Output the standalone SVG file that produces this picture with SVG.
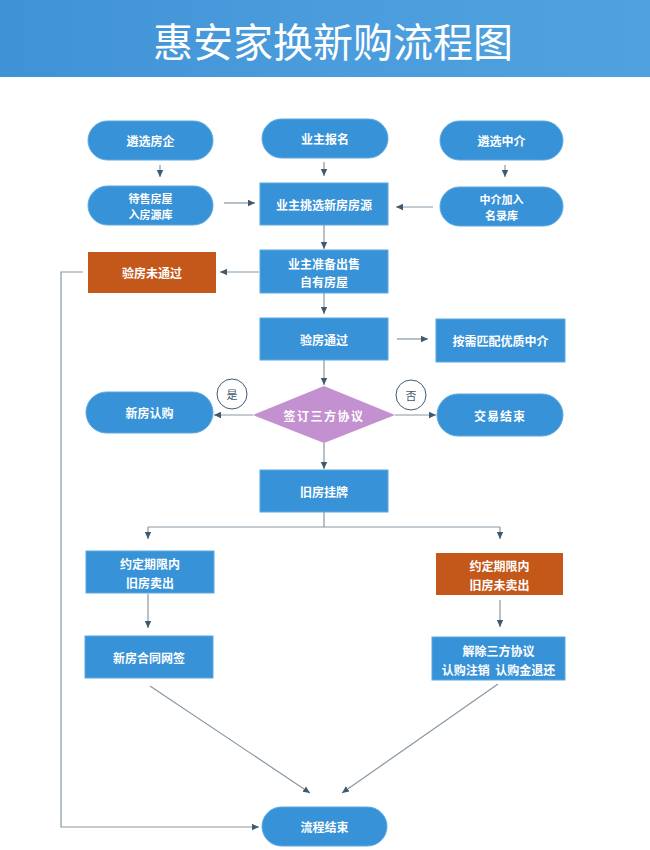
<svg xmlns="http://www.w3.org/2000/svg" width="650" height="850" viewBox="0 0 650 850">
<defs>
<linearGradient id="hdr" x1="0" y1="0" x2="1" y2="0">
<stop offset="0" stop-color="#3f92d6"/>
<stop offset="0.5" stop-color="#4a9cdc"/>
<stop offset="1" stop-color="#4fa2df"/>
</linearGradient>
<marker id="ah" markerUnits="userSpaceOnUse" markerWidth="8" markerHeight="8" refX="7" refY="4" orient="auto">
<path d="M0,0.8 L7,4 L0,7.2 Z" fill="#3f5a6e"/>
</marker>
</defs>
<style>
.blue{fill:#3792d7;stroke:#5aaae4;stroke-width:1}
.orange{fill:#c4571a}
.dia{fill:#c390d0}
.t{font-family:"Noto Sans CJK SC","Noto Sans",sans-serif;font-size:12px;font-weight:bold;fill:#ffffff;text-anchor:middle;dominant-baseline:central}
.s{font-size:11px}
.c{fill:none;stroke:#8797a3;stroke-width:1.2}
.ca{fill:none;stroke:#8797a3;stroke-width:1.2;marker-end:url(#ah)}
.lbl{fill:#ffffff;stroke:#3f5a6e;stroke-width:1}
.lt{font-family:"Noto Sans CJK SC","Noto Sans",sans-serif;font-size:11px;fill:#3f5a6e;text-anchor:middle;dominant-baseline:central}
</style>
<rect width="650" height="850" fill="#ffffff"/>
<g id="header">
<rect x="0" y="0" width="650" height="77" fill="url(#hdr)"/>
<text x="333" y="40" font-family="'Noto Sans CJK SC','Noto Sans',sans-serif" font-size="40" fill="#ffffff" text-anchor="middle" dominant-baseline="central">惠安家换新购流程图</text>
</g>
<g id="connectors">
<line class="ca" x1="160" y1="165" x2="160" y2="177"/>
<line class="ca" x1="324" y1="162" x2="324" y2="176"/>
<line class="ca" x1="505" y1="165" x2="505" y2="177"/>
<line class="ca" x1="224" y1="203" x2="255" y2="203"/>
<line class="ca" x1="433" y1="207" x2="396" y2="207"/>
<line class="ca" x1="324" y1="225" x2="324" y2="249"/>
<line class="ca" x1="259" y1="272" x2="220" y2="272"/>
<line class="ca" x1="324" y1="293" x2="324" y2="314"/>
<line class="ca" x1="397" y1="339" x2="428" y2="339"/>
<line class="ca" x1="324" y1="360" x2="324" y2="385"/>
<line class="ca" x1="253" y1="415" x2="214" y2="415"/>
<line class="ca" x1="395" y1="415" x2="436" y2="415"/>
<line class="ca" x1="324" y1="443" x2="324" y2="469"/>
<polyline class="c" points="324,512 324,527"/>
<polyline class="c" points="148,527 500,527"/>
<line class="ca" x1="148" y1="527" x2="148" y2="539"/>
<line class="ca" x1="500" y1="527" x2="500" y2="539"/>
<line class="ca" x1="148" y1="594" x2="148" y2="628"/>
<line class="ca" x1="500" y1="600" x2="500" y2="627"/>
<line class="ca" x1="150" y1="686" x2="310" y2="793"/>
<line class="ca" x1="498" y1="684" x2="342" y2="793"/>
<polyline class="ca" points="83,272 61,272 61,827 259,827"/>
<circle class="lbl" cx="232" cy="394" r="15"/>
<text class="lt" x="232" y="394">是</text>
<circle class="lbl" cx="411" cy="395" r="15"/>
<text class="lt" x="411" y="395">否</text>
</g>
<g id="n_fangqi">
<rect class="blue" x="88" y="121" width="125" height="39" rx="19.5"/>
<text class="t" x="150.5" y="140.5">遴选房企</text>
</g>
<g id="n_baoming">
<rect class="blue" x="262" y="119" width="126" height="39" rx="19.5"/>
<text class="t" x="325" y="138.5">业主报名</text>
</g>
<g id="n_zhongjie">
<rect class="blue" x="440" y="121" width="123" height="39" rx="19.5"/>
<text class="t" x="501.5" y="140.5">遴选中介</text>
</g>
<g id="n_daishou">
<rect class="blue" x="88" y="186" width="125" height="39" rx="19.5"/>
<text class="t s" x="150.5" y="197.5">待售房屋</text>
<text class="t s" x="150.5" y="213.5">入房源库</text>
</g>
<g id="n_tiaoxuan">
<rect class="blue" x="260" y="183" width="128" height="42"/>
<text class="t" x="324" y="204">业主挑选新房房源</text>
</g>
<g id="n_jiaru">
<rect class="blue" x="440" y="187" width="123" height="39" rx="19.5"/>
<text class="t s" x="501.5" y="198.5">中介加入</text>
<text class="t s" x="501.5" y="214.5">名录库</text>
</g>
<g id="n_weitongguo">
<rect class="orange" x="88" y="252" width="128" height="41"/>
<text class="t" x="152" y="272.5">验房未通过</text>
</g>
<g id="n_zhunbei">
<rect class="blue" x="260" y="250" width="128" height="43"/>
<text class="t" x="324" y="263">业主准备出售</text>
<text class="t" x="324" y="281">自有房屋</text>
</g>
<g id="n_tongguo">
<rect class="blue" x="260" y="318" width="128" height="42"/>
<text class="t" x="324" y="339">验房通过</text>
</g>
<g id="n_pipei">
<rect class="blue" x="436" y="319" width="129" height="43"/>
<text class="t" x="500.5" y="340.5">按需匹配优质中介</text>
</g>
<g id="n_xieyi">
<polygon class="dia" points="253,415 324,386 395,415 324,443"/>
<text class="t" x="324" y="415" letter-spacing="1.5">签订三方协议</text>
</g>
<g id="n_rengou">
<rect class="blue" x="86" y="392" width="127" height="41" rx="20.5"/>
<text class="t" x="149.5" y="412.5">新房认购</text>
</g>
<g id="n_jieshu">
<rect class="blue" x="437" y="394" width="126" height="42" rx="21"/>
<text class="t" x="500" y="415" letter-spacing="1">交易结束</text>
</g>
<g id="n_guapai">
<rect class="blue" x="260" y="470" width="128" height="42"/>
<text class="t" x="324" y="491">旧房挂牌</text>
</g>
<g id="n_maichu">
<rect class="blue" x="86" y="551" width="128" height="42"/>
<text class="t" x="150" y="563">约定期限内</text>
<text class="t" x="150" y="582">旧房卖出</text>
</g>
<g id="n_weimaichu">
<rect class="orange" x="436" y="553" width="127" height="42"/>
<text class="t" x="499.5" y="565">约定期限内</text>
<text class="t" x="499.5" y="584">旧房未卖出</text>
</g>
<g id="n_wangqian">
<rect class="blue" x="85" y="636" width="128" height="42"/>
<text class="t" x="149" y="657">新房合同网签</text>
</g>
<g id="n_jiechu">
<rect class="blue" x="432" y="637" width="133" height="43"/>
<text class="t" x="498.5" y="650">解除三方协议</text>
<text class="t" x="498.5" y="669" xml:space="preserve" style="white-space:pre">认购注销  认购金退还</text>
</g>
<g id="n_end">
<rect class="blue" x="262" y="807" width="125" height="39" rx="19.5"/>
<text class="t" x="324.5" y="826.5">流程结束</text>
</g>
</svg>
